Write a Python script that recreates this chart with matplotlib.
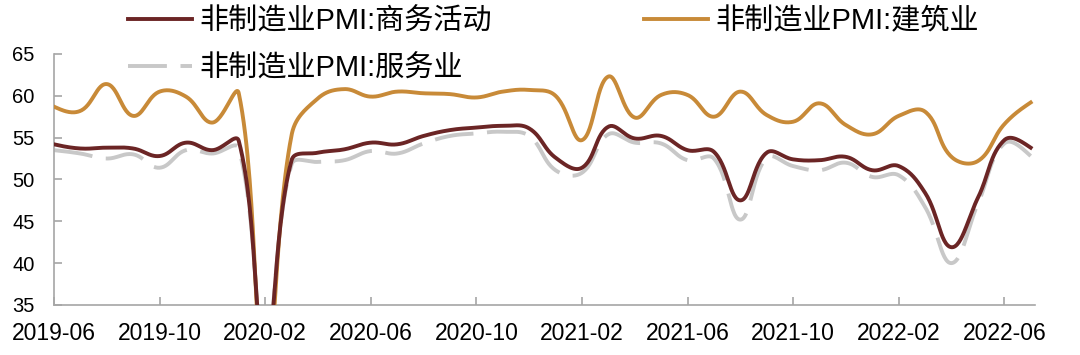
import numpy as np
import matplotlib
matplotlib.use('Agg')
import matplotlib.pyplot as plt

plt.rcParams['font.family'] = ['Liberation Sans', 'Noto Sans CJK SC', 'DejaVu Sans']

# monthly values, 2019-06 .. 2022-07
months = ['2019-06', '2019-07', '2019-08', '2019-09', '2019-10', '2019-11', '2019-12',
          '2020-01', '2020-02', '2020-03', '2020-04', '2020-05', '2020-06', '2020-07',
          '2020-08', '2020-09', '2020-10', '2020-11', '2020-12', '2021-01', '2021-02',
          '2021-03', '2021-04', '2021-05', '2021-06', '2021-07', '2021-08', '2021-09',
          '2021-10', '2021-11', '2021-12', '2022-01', '2022-02', '2022-03', '2022-04',
          '2022-05', '2022-06', '2022-07']

business = [54.2, 53.7, 53.8, 53.7, 52.8, 54.4, 53.5,
            54.6, 29.6, 52.3, 53.2, 53.6, 54.4, 54.2,
            55.2, 55.9, 56.2, 56.4, 56.1, 52.6, 51.4,
            56.3, 54.9, 55.2, 53.5, 53.3, 47.5, 53.2,
            52.4, 52.3, 52.7, 51.1, 51.6, 48.4, 41.9,
            47.8, 54.7, 53.8]

construction = [58.7, 58.2, 61.4, 57.6, 60.5, 59.9, 56.8,
                60.3, 26.6, 55.3, 59.7, 60.8, 59.9, 60.5,
                60.3, 60.2, 59.8, 60.5, 60.7, 60.0, 54.7,
                62.3, 57.4, 60.1, 60.1, 57.5, 60.5, 57.7,
                56.9, 59.1, 56.5, 55.4, 57.6, 58.1, 52.7,
                52.2, 56.6, 59.2]

services = [53.5, 53.1, 52.5, 53.0, 51.4, 53.5, 53.1,
            53.7, 30.1, 51.8, 52.1, 52.3, 53.4, 53.1,
            54.3, 55.2, 55.5, 55.7, 55.2, 51.1, 50.8,
            55.4, 54.4, 54.3, 52.3, 52.5, 45.2, 52.6,
            51.6, 51.1, 52.0, 50.3, 50.5, 46.7, 40.0,
            47.1, 54.3, 52.8]

tick_labels = months[::4]

labels = ['非制造业PMI:商务活动', '非制造业PMI:服务业', '非制造业PMI:建筑业']
colors = ['#6b2525', '#c8c8c8', '#c88a38']


def smooth(y, tension=0.4, n=30):
    # bezier curve through the points, control points scaled by segment
    # length in screen units (like the smoothed lines of excel)
    y = np.asarray(y, dtype=float)
    x = np.arange(len(y), dtype=float)
    sx, sy = 26.4, 8.34  # px per month / px per unit
    P = np.column_stack([x * sx, y * sy])
    m = len(P)
    c1 = P.copy()
    c2 = P.copy()
    for i in range(1, m - 1):
        d01 = np.hypot(*(P[i] - P[i - 1]))
        d12 = np.hypot(*(P[i + 1] - P[i]))
        fa = tension * d01 / (d01 + d12)
        fb = tension * d12 / (d01 + d12)
        c1[i] = P[i] - fa * (P[i + 1] - P[i - 1])
        c2[i] = P[i] + fb * (P[i + 1] - P[i - 1])
    c2[0] = P[0] + (c1[1] - P[0]) * 0.5
    c1[-1] = P[-1] + (c2[-2] - P[-1]) * 0.5
    t = np.linspace(0, 1, n, endpoint=False)[:, None]
    pts = []
    for i in range(m - 1):
        a, b, c, d = P[i], c2[i], c1[i + 1], P[i + 1]
        seg = ((1 - t) ** 3) * a + 3 * ((1 - t) ** 2) * t * b + 3 * (1 - t) * t ** 2 * c + t ** 3 * d
        pts.append(seg)
    pts.append(P[-1:])
    pts = np.vstack(pts)
    return pts[:, 0] / sx, pts[:, 1] / sy


fig = plt.figure(figsize=(10.8, 3.55), dpi=100)
ax = fig.add_axes([0.05, 0.141, 0.908, 0.707])

x1, y1 = smooth(business)
x2, y2 = smooth(services)
x3, y3 = smooth(construction)

h2, = ax.plot(x2, y2, color=colors[1], lw=2.8, dashes=(10, 3.5), zorder=2)
h3, = ax.plot(x3, y3, color=colors[2], lw=2.8, zorder=3)
h1, = ax.plot(x1, y1, color=colors[0], lw=2.8, zorder=4)

ax.set_ylim(35, 65)
ax.set_xlim(0, 37.15)
ax.set_yticks(range(35, 66, 5))
ax.set_xticks(range(0, len(months), 4))
ax.set_xticklabels(tick_labels)

for s in ['top', 'right']:
    ax.spines[s].set_visible(False)
for s in ['left', 'bottom']:
    ax.spines[s].set_color('#a6a6a6')
    ax.spines[s].set_linewidth(1.2)
ax.tick_params(axis='x', direction='in', length=6, color='#a6a6a6', width=1.2,
               labelsize=16.5, pad=12)
ax.tick_params(axis='y', direction='in', length=6, color='#a6a6a6', width=1.2,
               labelsize=14.5, pad=14)

fig.legend([h1, h2, h3], labels, loc='upper left', bbox_to_anchor=(0.116, 0.987),
           ncol=2, frameon=False, fontsize=21, handlelength=2.2, handletextpad=0.25,
           columnspacing=5.2, labelspacing=0.65, borderaxespad=0, borderpad=0.1)

fig.savefig('out.png', dpi=100)
